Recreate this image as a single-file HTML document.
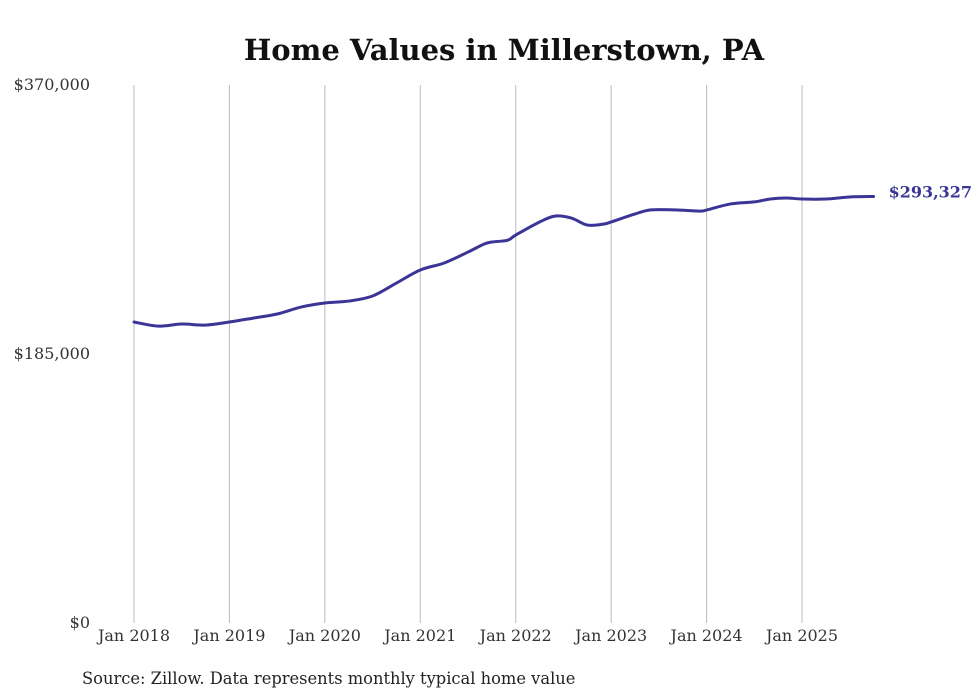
<!DOCTYPE html>
<html><head><meta charset="utf-8"><style>
body{margin:0;background:#fff;width:980px;height:699px;overflow:hidden}
svg{display:block;font-family:"DejaVu Serif","Liberation Serif",serif}
</style></head><body>
<svg id="chart" width="980" height="699">
<text x="504" y="60" text-anchor="middle" font-size="29" font-weight="bold" fill="#111">Home Values in Millerstown, PA</text>
<g id="grid"></g><g id="yt"></g><g id="xt"></g>
<path id="line" fill="none" stroke="#3a3596" stroke-width="3" stroke-linejoin="round" stroke-linecap="round"/>
<text id="endlabel" font-size="16" font-weight="bold" fill="#3a3596"></text>
<text x="82" y="684" font-size="16.3" fill="#222">Source: Zillow. Data represents monthly typical home value</text>
</svg>
<script>
const monthIdx=[0,3,6,9,12,15,18,21,24,27,30,33,36,39,42,44,45,47,48,51,53,55,57,59,60,63,65,68,71,72,75,78,80,82,84,87,90,93];
const values=[207000,204200,205600,204900,207000,209700,212500,217300,220100,221400,224900,233800,242800,247600,255100,260600,262000,263300,266800,275800,279900,278500,273700,274300,275800,281300,284100,284100,283300,284000,288200,289600,291600,292300,291600,291600,293000,293327];
const yTicks=[0,185000,370000];
const yTickLabels=["$0","$185,000","$370,000"];
const xYears=[2018,2019,2020,2021,2022,2023,2024,2025];
const endLabel="$293,327";
const svg=document.getElementById('chart'),NS='http://www.w3.org/2000/svg';
const x=m=>134+m*(668/84), y=v=>623-v*(538/370000);
function mk(t,a,p){const e=document.createElementNS(NS,t);for(const k in a)e.setAttribute(k,a[k]);p.appendChild(e);return e;}
xYears.forEach((yr,i)=>{const xx=x((yr-2018)*12);
 const l=mk('line',{x1:xx,x2:xx,y1:85,y2:623,stroke:'#bbb','stroke-width':1},document.getElementById('grid'));
 
 
 const t=mk('text',{x:xx,y:641,'text-anchor':'middle','font-size':16,fill:'#333'},document.getElementById('xt'));
 t.textContent='Jan '+yr;
 
 });
yTicks.forEach((v,i)=>{const t=mk('text',{x:90,y:y(v)+5,'text-anchor':'end','font-size':16,fill:'#333'},document.getElementById('yt'));
 t.textContent=yTickLabels[i];
 
 });
const pts=monthIdx.map((m,i)=>[x(m),y(values[i])]);
let d='M'+pts[0][0]+','+pts[0][1];
for(let i=0;i<pts.length-1;i++){const p0=pts[i-1]||pts[i],p1=pts[i],p2=pts[i+1],p3=pts[i+2]||p2;
 const c1=[p1[0]+(p2[0]-p0[0])/6,p1[1]+(p2[1]-p0[1])/6],c2=[p2[0]-(p3[0]-p1[0])/6,p2[1]-(p3[1]-p1[1])/6];
 d+=` C${c1[0]},${c1[1]} ${c2[0]},${c2[1]} ${p2[0]},${p2[1]}`;}
document.getElementById('line').setAttribute('d',d);
const last=pts[pts.length-1],el=document.getElementById('endlabel');
el.setAttribute('x',last[0]+15);el.setAttribute('y',last[1]+1);el.textContent=endLabel;
</script>
</body></html>
